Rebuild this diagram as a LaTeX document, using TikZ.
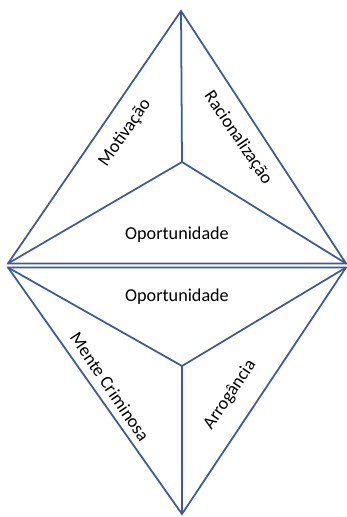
\documentclass[tikz,border=0pt]{standalone}
\usepackage{fontspec}
\setmainfont{Carlito}
\usepackage{tikz}
\definecolor{edgeblue}{HTML}{3C5A9A}

\begin{document}
\begin{tikzpicture}[x=0.03cm, y=-0.03cm]
    % Define styles
    \tikzstyle{edge} = [draw=edgeblue, line width=1.5pt, line join=miter]
    \tikzstyle{label} = [inner sep=0pt, font=\fontsize{15.5}{18}\selectfont]

    \useasboundingbox (0,0) rectangle (347,517);

    % Upper triangle
    \coordinate (topapex) at (181,11);
    \coordinate (topcenter) at (182,162);
    \coordinate (topleft) at (8,263.5);
    \coordinate (topright) at (346,263.5);

    % Lower triangle
    \coordinate (botleft) at (8,267.5);
    \coordinate (botright) at (346,267.5);
    \coordinate (botcenter) at (182,366);
    \coordinate (botapex) at (182,514);

    % Edges - upper
    \draw[edge] (topleft) -- (topapex) -- (topright) -- cycle;
    \draw[edge] (topapex) -- (topcenter);
    \draw[edge] (topleft) -- (topcenter) -- (topright);

    % Edges - lower
    \draw[edge] (botleft) -- (botright) -- (botapex) -- cycle;
    \draw[edge] (botapex) -- (botcenter);
    \draw[edge] (botleft) -- (botcenter) -- (botright);

    % Labels
    \node[label, rotate=55] (motiv) at (125,133) {Motivação};
    \node[label, rotate=-56] (racio) at (238,138) {Racionalização};
    \node[label] (oportA) at (177,235) {Oportunidade};
    \node[label] (oportB) at (177,297) {Oportunidade};
    \node[label, rotate=-56] (mente) at (110,387) {Mente Criminosa};
    \node[label, rotate=56] (arrog) at (230,395) {Arrogância};
\end{tikzpicture}
\end{document}
